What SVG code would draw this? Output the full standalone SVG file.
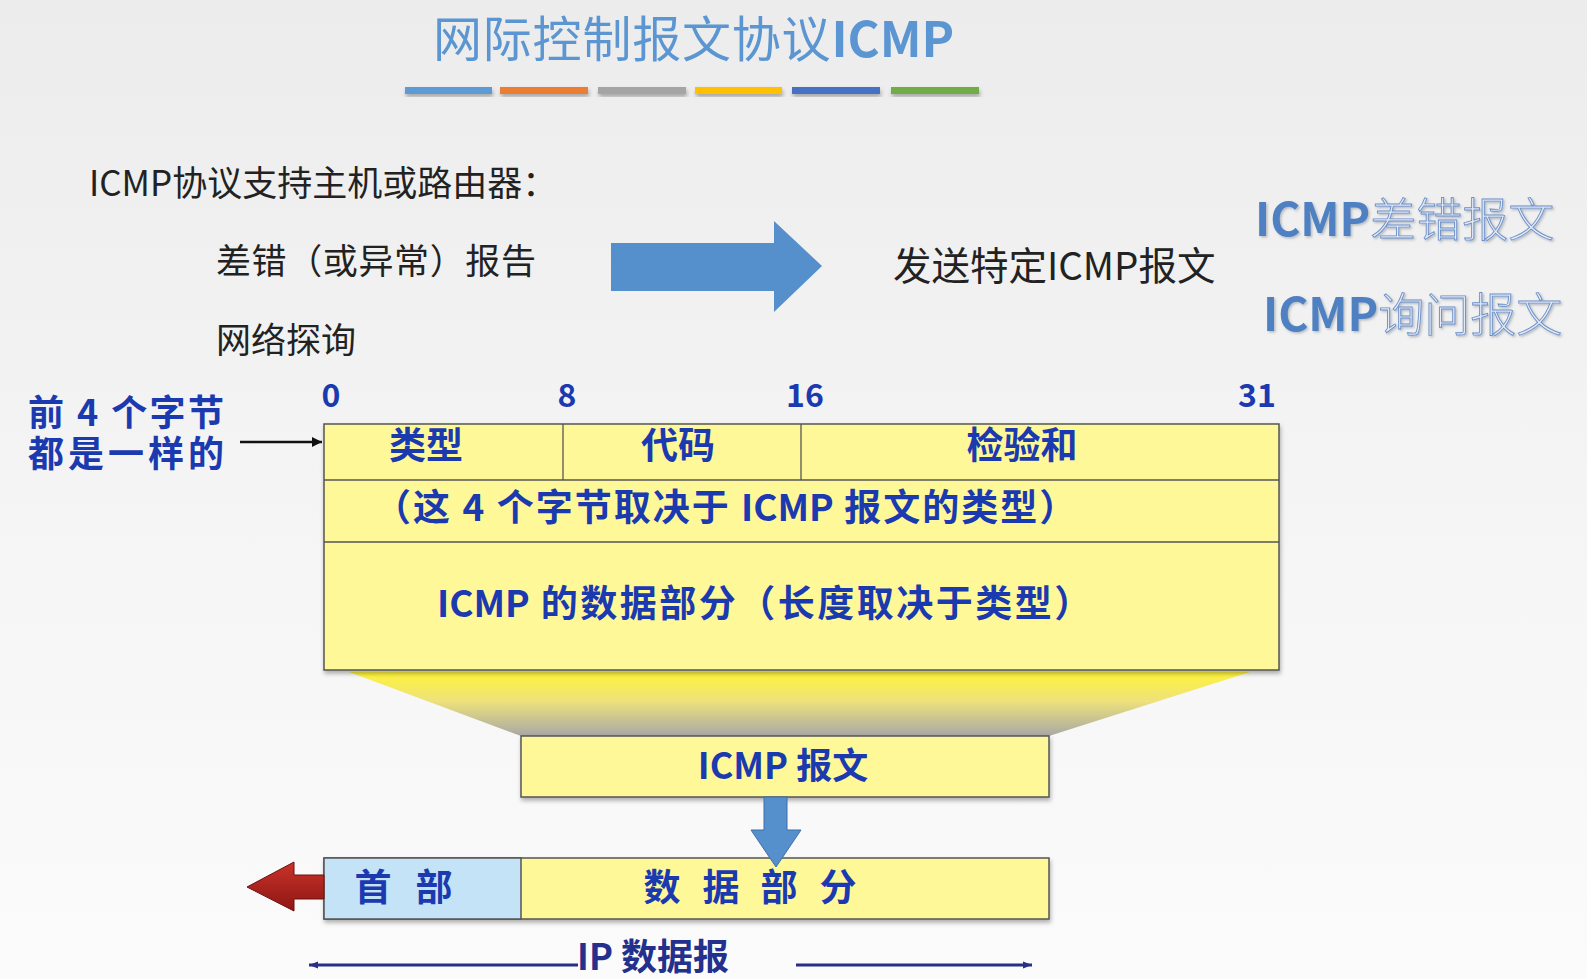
<svg xmlns="http://www.w3.org/2000/svg" width="1587" height="979" viewBox="0 0 1587 979">
<defs>
<linearGradient id="bg" x1="0" y1="0" x2="0" y2="1">
<stop offset="0" stop-color="#ececec"/>
<stop offset="0.6" stop-color="#f6f6f6"/>
<stop offset="1" stop-color="#fbfbfb"/>
</linearGradient>
<linearGradient id="funnel" x1="0" y1="0" x2="0" y2="1">
<stop offset="0" stop-color="#fff33c"/>
<stop offset="0.45" stop-color="#eee27a"/>
<stop offset="1" stop-color="#a8a8a6"/>
</linearGradient>
<linearGradient id="red" x1="0" y1="0" x2="0" y2="1">
<stop offset="0" stop-color="#c8342a"/>
<stop offset="1" stop-color="#8e1512"/>
</linearGradient>
<filter id="sh" x="-5%" y="-20%" width="110%" height="160%">
<feDropShadow dx="1" dy="3" stdDeviation="2" flood-color="#000" flood-opacity="0.3"/>
</filter>
<filter id="tsh" x="-5%" y="-20%" width="110%" height="140%">
<feDropShadow dx="1.5" dy="1.5" stdDeviation="1" flood-color="#456" flood-opacity="0.35"/>
</filter>
<marker id="blk" viewBox="0 0 10 10" refX="10" refY="5" markerWidth="14" markerHeight="10" markerUnits="userSpaceOnUse" orient="auto">
<path d="M0,0 L10,5 L0,10 z" fill="#111"/>
</marker>
<marker id="nv" viewBox="0 0 10 10" refX="10" refY="5" markerWidth="14" markerHeight="9" markerUnits="userSpaceOnUse" orient="auto-start-reverse">
<path d="M0,1 L10,5 L0,9 z" fill="#2a2f86"/>
</marker>
</defs>
<style>
.cjk{font-family:"Noto Sans CJK SC","Noto Sans",sans-serif}
.dark{fill:#222}
.blue{fill:#1b3ab0;font-weight:bold}
.box{fill:#fff899;stroke:#555;stroke-width:1.5}
.hdr{fill:#c5e3f6;stroke:#555;stroke-width:1.5}
.div{stroke:#555;stroke-width:1.3}
.side{font-size:46px}
.tight{letter-spacing:0}
</style>
<rect width="1587" height="979" fill="url(#bg)"/>

<g id="title">
<text class="cjk" x="433" y="57" font-size="49" fill="#5b96d2" letter-spacing="0.8">网际控制报文协议<tspan font-weight="bold" letter-spacing="0">ICMP</tspan></text>
<g filter="url(#sh)">
<rect x="405" y="87" width="87" height="7" fill="#5b9bd5"/>
<rect x="500" y="87" width="88" height="7" fill="#ed7d31"/>
<rect x="598" y="87" width="88" height="7" fill="#a5a5a5"/>
<rect x="695" y="87" width="87" height="7" fill="#ffc000"/>
<rect x="792" y="87" width="88" height="7" fill="#4472c4"/>
<rect x="891" y="87" width="88" height="7" fill="#70ad47"/>
</g>
</g>

<g id="intro">
<text class="cjk dark" x="89" y="196" font-size="35">ICMP协议支持主机或路由器：</text>
<text class="cjk dark" x="216" y="274" font-size="35" textLength="320" lengthAdjust="spacing">差错（或异常）报告</text>
<text class="cjk dark" x="216" y="353" font-size="35">网络探询</text>
</g>

<g id="big-arrow">
<path d="M611,243 H774 V221 L822,266 L774,312 V291 H611 Z" fill="#5590cc"/>
</g>

<g id="send">
<text class="cjk dark" x="893" y="280" font-size="38.5">发送特定ICMP报文</text>
</g>

<g id="types" filter="url(#tsh)">
<text class="cjk side" x="1255" y="236"><tspan font-weight="bold" fill="#4f80c2">ICMP</tspan><tspan fill="#e4ebf7" stroke="#6b8fc8" stroke-width="0.9" font-weight="300">差错报文</tspan></text>
<text class="cjk side" x="1263" y="331"><tspan font-weight="bold" fill="#4f80c2">ICMP</tspan><tspan fill="#e4ebf7" stroke="#6b8fc8" stroke-width="0.9" font-weight="300">询问报文</tspan></text>
</g>

<g id="same-label">
<text class="cjk blue" font-size="36"><tspan x="28" y="426" textLength="196" lengthAdjust="spacing">前 4 个字节</tspan><tspan x="28" y="467" textLength="196" lengthAdjust="spacing">都是一样的</tspan></text>
</g>

<g id="bits" class="cjk blue" font-size="32" text-anchor="middle">
<text x="331" y="407">0</text>
<text x="567" y="407">8</text>
<text x="805" y="407">16</text>
<text x="1257" y="407">31</text>
</g>

<g id="funnel">
<path d="M349,672 H1250 L1049,736 H521 Z" fill="url(#funnel)"/>
</g>

<g id="icmp-format">
<rect class="box" x="324" y="424" width="955" height="246" filter="url(#sh)"/>
<line class="div" x1="324" y1="480" x2="1279" y2="480"/>
<line class="div" x1="324" y1="542" x2="1279" y2="542"/>
<line class="div" x1="563" y1="424" x2="563" y2="480"/>
<line class="div" x1="801" y1="424" x2="801" y2="480"/>
<g class="cjk blue" font-size="37" text-anchor="middle">
<text x="426" y="459">类型</text>
<text x="678" y="459">代码</text>
<text x="1022" y="459">检验和</text>
</g>
<text class="cjk blue" x="374" y="521" font-size="37" letter-spacing="2">（这 4 个字节取决于 <tspan class="tight">ICMP</tspan> 报文的类型）</text>
<text class="cjk blue" x="437" y="617" font-size="37" letter-spacing="2.5"><tspan class="tight">ICMP</tspan> 的数据部分（长度取决于类型）</text>
</g>

<g id="icmp-msg">
<rect class="box" x="521" y="736" width="528" height="61" filter="url(#sh)"/>
<text class="cjk blue" x="783" y="779" font-size="36" text-anchor="middle">ICMP 报文</text>
</g>

<g id="ip-datagram">
<rect class="box" x="324" y="858" width="725" height="61" filter="url(#sh)"/>
<rect class="hdr" x="324" y="858" width="197" height="61"/>
<g class="cjk blue" font-size="37" text-anchor="middle">
<text x="373 434" y="901">首部</text>
<text x="662 721 779 838" y="901">数据部分</text>
</g>
</g>

<g id="connectors">
<line x1="240" y1="442" x2="322" y2="442" stroke="#111" stroke-width="2.5" marker-end="url(#blk)"/>
<path d="M764,797 H787 V830 H801 L776,867 L751,830 H764 Z" fill="#5590cc" stroke="#3d6fa8" stroke-width="1"/>
<path d="M324,875 H294 V862 L247,887 L294,911 V899 H324 Z" fill="url(#red)" stroke="#6e0f0c" stroke-width="1"/>
<line x1="578" y1="965" x2="309" y2="965" stroke="#2a2f86" stroke-width="3" marker-end="url(#nv)"/>
<line x1="796" y1="965" x2="1032" y2="965" stroke="#2a2f86" stroke-width="3" marker-end="url(#nv)"/>
</g>

<g id="ip-label">
<text class="cjk" x="577" y="970" font-size="36" font-weight="bold" fill="#23308c">IP 数据报</text>
</g>
</svg>
